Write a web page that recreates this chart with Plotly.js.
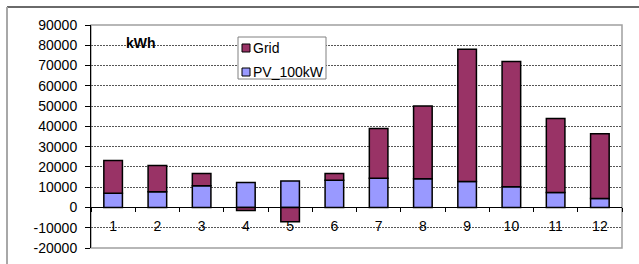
<!DOCTYPE html>
<html><head><meta charset="utf-8">
<script src="https://cdn.plot.ly/plotly-3.0.1.min.js"></script>
<style>html,body{margin:0;padding:0;background:#fff}#c{width:639px;height:264px}</style>
</head><body><div id="c"></div>
<script>
const months = ['1','2','3','4','5','6','7','8','9','10','11','12'];
const pv100kW = [7000, 7700, 10700, 12300, 13100, 13400, 14400, 14100, 12800, 10200, 7400, 4400];
const grid = [16100, 13000, 6000, -1500, -7000, 3300, 24500, 35900, 65200, 61800, 36500, 32000];
const yTicks = [-20000,-10000,0,10000,20000,30000,40000,50000,60000,70000,80000,90000];
const seriesNames = ['Grid', 'PV_100kW'];
const seriesColors = ['#993366', '#9999FF'];

const font = {family: 'Arial, "Liberation Sans", sans-serif', size: 14, color: '#000'};
const yMin = -20000, yMax = 90000;

const traces = [
  {type:'bar', name: seriesNames[1], x: months, y: pv100kW, width: 0.42,
   marker:{color: seriesColors[1], line:{color:'#000', width:1.5}}},
  {type:'bar', name: seriesNames[0], x: months, y: grid, width: 0.42,
   marker:{color: seriesColors[0], line:{color:'#000', width:1.5}}}
];

// pixel -> paper helpers (plot area: x 91..622, y 25..248)
const L = 91, R = 622, T = 25, B = 248;
const px = v => (v - L) / (R - L);
const py = v => (B - v) / (B - T);

const shapes = [
  {type: 'rect', xref: 'paper', yref: 'paper', x0: 0, x1: 1, y0: 0, y1: 1,
   line: {color: '#a0a0a0', width: 1.5}, layer: 'below'},
  {type: 'line', xref: 'paper', yref: 'paper', x0: px(7), x1: px(700), y0: py(7), y1: py(7),
   line: {color: '#6a6a6a', width: 2}},
  {type: 'line', xref: 'paper', yref: 'paper', x0: px(7), x1: px(7), y0: py(300), y1: py(7),
   line: {color: '#a8a8a8', width: 2}},
  // legend box
  {type: 'rect', xref: 'paper', yref: 'paper', x0: px(238), x1: px(326), y0: py(79), y1: py(37),
   fillcolor: '#fff', line: {color: '#808080', width: 1}}
];
const annotations = [
  {text: '<b>kWh</b>', xref: 'paper', yref: 'paper', x: px(141), y: py(43),
   xanchor: 'center', yanchor: 'middle', showarrow: false,
   font: {family: font.family, size: 14, color: '#000'}}
];
const legendRows = [48, 72];
seriesNames.forEach((name, i) => {
  const cy = legendRows[i];
  shapes.push({type: 'rect', xref: 'paper', yref: 'paper',
    x0: px(242), x1: px(250), y0: py(cy + 4), y1: py(cy - 4),
    fillcolor: seriesColors[i], line: {color: '#000', width: 1}});
  annotations.push({text: name, xref: 'paper', yref: 'paper', x: px(251), y: py(cy),
    xanchor: 'left', yanchor: 'middle', showarrow: false, font: font});
});

const layout = {
  width: 639, height: 264,
  margin: {l: L, r: 639 - R, t: T, b: 264 - B, pad: 0},
  paper_bgcolor: '#fff', plot_bgcolor: '#fff',
  font: font,
  barmode: 'relative',
  showlegend: false,
  xaxis: {type: 'category', range: [-0.5, 11.5], anchor: 'free',
    position: (0 - yMin) / (yMax - yMin),
    showline: true, linecolor: '#000', linewidth: 1,
    ticks: 'outside', ticklen: 4, tickcolor: '#000', tickson: 'boundaries',
    ticklabelstandoff: 6, showgrid: false, zeroline: false, tickfont: font, fixedrange: true},
  yaxis: {range: [yMin, yMax], tickvals: yTicks, ticktext: yTicks.map(String),
    showline: true, linecolor: '#000', linewidth: 1, ticks: 'outside', ticklen: 5, tickcolor: '#000',
    ticklabelstandoff: 5,
    showgrid: true, gridcolor: '#555', gridwidth: 1, griddash: '2px,1px',
    zeroline: false, tickfont: font, fixedrange: true},
  annotations: annotations,
  shapes: shapes
};

Plotly.newPlot('c', traces, layout, {staticPlot: true, displayModeBar: false});
</script></body></html>
